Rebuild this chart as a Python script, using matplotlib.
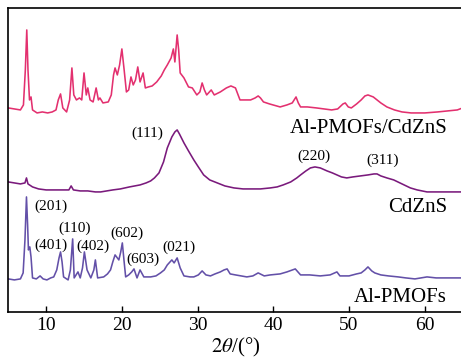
import matplotlib
matplotlib.use("Agg")
import matplotlib.pyplot as plt

plt.rcParams['font.family'] = ['Liberation Serif', 'DejaVu Serif']
plt.rcParams['mathtext.fontset'] = 'stix'

# XRD patterns: (2theta, intensity a.u.)
composite = [
    (5.0, 204), (5.8, 203), (6.6, 202), (7.0, 207), (7.25, 242), (7.44, 282), (7.6, 242),
    (7.8, 212), (8.0, 215), (8.2, 202), (8.8, 199), (9.5, 200), (10.2, 199), (10.8, 200),
    (11.3, 202), (11.6, 212), (11.9, 218), (12.2, 204), (12.7, 200), (13.1, 212), (13.4, 244),
    (13.65, 217), (14.0, 212), (14.4, 214), (14.7, 212), (15.0, 239), (15.3, 217), (15.5, 224),
    (15.8, 212), (16.2, 210), (16.6, 224), (16.9, 212), (17.1, 214), (17.5, 209), (18.2, 210),
    (18.6, 217), (18.9, 237), (19.1, 244), (19.4, 237), (19.7, 247), (20.0, 263), (20.3, 242),
    (20.6, 220), (20.9, 222), (21.2, 235), (21.5, 227), (21.8, 232), (22.1, 245), (22.4, 230),
    (22.8, 239), (23.1, 224), (23.5, 225), (24.0, 226), (24.6, 230), (25.2, 236), (25.6, 242),
    (26.0, 247), (26.5, 254), (26.8, 263), (27.0, 250), (27.3, 277), (27.5, 262), (27.7, 239),
    (28.2, 234), (28.8, 225), (29.3, 224), (29.9, 217), (30.3, 220), (30.6, 229), (30.9, 222),
    (31.2, 217), (31.8, 222), (32.2, 217), (33.0, 220), (33.8, 224), (34.4, 226), (35.0, 224),
    (35.6, 212), (36.3, 212), (37.0, 212), (37.6, 214), (38.0, 216), (38.3, 214), (38.7, 210),
    (39.5, 208), (40.9, 205), (41.8, 207), (42.5, 209), (43.0, 215), (43.3, 209), (43.6, 205),
    (44.5, 205), (45.7, 204), (46.7, 203), (47.7, 202), (48.5, 203), (49.2, 208), (49.5, 209),
    (49.9, 205), (50.3, 204), (51.0, 208), (51.6, 212), (52.1, 216), (52.5, 217), (53.2, 215),
    (53.7, 212), (54.2, 209), (55.0, 205), (56.0, 202), (57.0, 200), (58.2, 199), (60.0, 199),
    (61.7, 200), (63.0, 201), (64.3, 202), (65.0, 204),
]

cdzns = [
    (5.0, 130), (5.8, 129), (6.6, 128), (7.2, 129), (7.4, 134), (7.6, 128), (8.2, 125),
    (9.0, 123), (10.0, 122), (11.0, 122), (12.0, 122), (13.0, 122), (13.3, 126), (13.6, 122),
    (14.5, 121), (15.5, 121), (16.5, 120), (17.2, 120), (18.0, 121), (18.8, 122), (19.8, 123),
    (21.0, 125), (22.4, 127), (23.2, 129), (23.8, 131), (24.3, 134), (24.9, 139), (25.5, 150),
    (26.0, 164), (26.6, 175), (27.0, 180), (27.3, 182), (27.6, 178), (28.2, 169), (28.8, 161),
    (29.5, 152), (30.1, 145), (30.8, 137), (31.6, 132), (32.6, 129), (33.6, 126), (34.8, 124),
    (36.0, 123), (37.0, 123), (38.3, 123), (39.6, 124), (40.5, 125), (41.3, 127), (42.3, 130),
    (43.1, 134), (43.6, 137), (44.3, 141), (44.9, 144), (45.5, 145), (46.2, 144), (47.1, 141),
    (47.8, 139), (48.4, 137), (49.0, 135), (49.7, 134), (50.5, 135), (51.5, 136), (52.5, 137),
    (53.3, 138), (53.7, 138), (54.2, 136), (55.0, 134), (55.9, 132), (57.0, 128), (58.1, 124),
    (59.0, 122), (60.3, 120), (62.5, 120), (65.0, 120),
]

al_pmofs = [
    (5.0, 33), (5.8, 32), (6.6, 33), (6.96, 39), (7.2, 72), (7.4, 115), (7.55, 87), (7.66, 62),
    (7.84, 65), (8.0, 55), (8.2, 34), (8.7, 33), (9.2, 36), (9.6, 33), (10.1, 32), (10.6, 34),
    (11.0, 35), (11.4, 42), (11.7, 54), (11.9, 60), (12.1, 50), (12.3, 35), (12.9, 32),
    (13.2, 42), (13.5, 73), (13.7, 34), (14.2, 40), (14.5, 34), (14.8, 44), (15.05, 60),
    (15.4, 42), (15.9, 34), (16.3, 42), (16.5, 52), (16.8, 34), (17.6, 35), (18.1, 38),
    (18.5, 42), (18.8, 50), (19.1, 57), (19.6, 52), (19.85, 60), (20.06, 69), (20.3, 50),
    (20.5, 35), (20.9, 37), (21.3, 40), (21.6, 43), (22.0, 34), (22.4, 42), (22.9, 35),
    (23.8, 35), (24.5, 36), (25.1, 39), (25.6, 42), (26.0, 47), (26.6, 52), (26.9, 49),
    (27.3, 54), (27.7, 44), (28.2, 36), (29.0, 35), (29.5, 35), (30.1, 37), (30.6, 41),
    (31.1, 37), (31.7, 36), (32.3, 38), (33.0, 40), (33.5, 42), (33.9, 43), (34.3, 38),
    (35.0, 37), (36.5, 35), (37.3, 36), (38.0, 39), (38.8, 36), (39.6, 37), (40.9, 38),
    (41.8, 40), (42.9, 43), (43.6, 37), (44.8, 37), (46.2, 36), (47.5, 37), (48.4, 40),
    (48.8, 36), (50.0, 36), (51.0, 38), (51.6, 39), (52.1, 42), (52.5, 45), (53.0, 41),
    (53.4, 39), (54.2, 37), (55.2, 36), (56.5, 35), (57.5, 34), (58.7, 33), (59.5, 34),
    (60.3, 35), (61.5, 34), (63.0, 34), (65.0, 34),
]

series_names = ['Al-PMOFs/CdZnS', 'CdZnS', 'Al-PMOFs']
series_colors = ['#e3306f', '#7a1a7c', '#6350a8']

# (hkl label, 2theta, height) for the annotations
cdzns_peaks = [('(111)', 23.4, 179), ('(220)', 45.4, 156), ('(311)', 54.4, 152)]
mof_peaks = [
    ('(201)', 10.6, 106), ('(401)', 10.6, 67), ('(110)', 13.7, 84), ('(402)', 16.2, 66),
    ('(602)', 20.7, 79), ('(603)', 22.8, 53), ('(021)', 27.6, 65),
]
name_pos = [179, 100, 10]

fig = plt.figure(figsize=(4.61, 3.59), dpi=100)
ax = fig.add_axes([0.018, 0.132, 0.9855, 0.845])

for data, color in zip([composite, cdzns, al_pmofs], series_colors):
    x, y = zip(*data)
    ax.plot(x, y, color=color, lw=1.15)

for name, yy in zip(series_names, name_pos):
    ax.text(62.95, yy, name, ha='right', va='baseline', fontsize=15)

for lab, xx, yy in cdzns_peaks + mof_peaks:
    ax.text(xx, yy, lab, ha='center', va='center', fontsize=11)

ax.set_xlim(5, 65)
ax.set_ylim(0.3, 303.7)
ax.set_xticks([10, 20, 30, 40, 50, 60])
ax.set_yticks([])
ax.tick_params(axis='x', direction='in', length=4, width=1, labelsize=14, pad=4)
ax.spines['right'].set_visible(False)
for s in ['left', 'top', 'bottom']:
    ax.spines[s].set_linewidth(1.2)
ax.set_xlabel(r'$\mathit{2\theta}$/(°)', fontsize=15, labelpad=1)

fig.savefig('out.png', dpi=100)
